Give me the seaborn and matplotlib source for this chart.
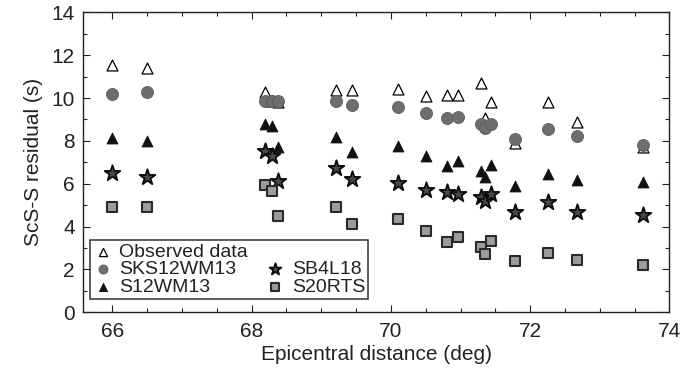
import matplotlib
matplotlib.use("Agg")
import matplotlib.pyplot as plt
import seaborn as sns
import pandas as pd
from matplotlib.lines import Line2D
from matplotlib.ticker import MultipleLocator

# ---- data ----
dist = [66.0, 66.5, 68.19, 68.3, 68.38, 69.21, 69.44, 70.1, 70.5, 70.8, 70.97,
        71.29, 71.35, 71.44, 71.78, 72.26, 72.67, 73.62]
observed = [11.52, 11.4, 10.28, 9.85, 9.8, 10.38, 10.38, 10.4, 10.08, 10.15, 10.15,
            10.7, 9.05, 9.8, 7.9, 9.8, 8.87, 7.72]
sks12wm13 = [10.2, 10.27, 9.88, 9.88, 9.85, 9.85, 9.68, 9.57, 9.28, 9.05, 9.1,
             8.8, 8.58, 8.8, 8.1, 8.55, 8.25, 7.82]
s12wm13 = [8.12, 8.0, 8.8, 8.7, 7.7, 8.2, 7.5, 7.75, 7.28, 6.83, 7.08,
           6.6, 6.3, 6.88, 5.9, 6.46, 6.18, 6.07]
sb4l18 = [6.5, 6.3, 7.55, 7.3, 6.12, 6.73, 6.22, 6.04, 5.7, 5.6, 5.52,
          5.37, 5.2, 5.52, 4.67, 5.13, 4.67, 4.56]
s20rts = [4.9, 4.9, 5.92, 5.68, 4.5, 4.93, 4.13, 4.36, 3.8, 3.3, 3.53,
          3.03, 2.73, 3.34, 2.4, 2.75, 2.44, 2.22]

x_ticks = [66, 68, 70, 72, 74]
y_ticks = [0, 2, 4, 6, 8, 10, 12, 14]

sns.set_style("white")
plt.rcParams['font.family'] = ['Liberation Sans', 'DejaVu Sans']

fig = plt.figure(figsize=(6.81, 3.74), dpi=100)
ax = fig.add_axes([0.122, 0.165, 0.861, 0.802])

series = [
    ("Observed data", observed, dict(marker="^", s=62, color="white", edgecolor="black", linewidth=0.9)),
    ("SKS12WM13", sks12wm13, dict(marker="o", s=75, color="#6e6e6e", edgecolor="#5a5a5a", linewidth=0.6)),
    ("S12WM13", s12wm13, dict(marker="^", s=62, color="#111111", edgecolor="#111111", linewidth=0.6)),
    ("SB4L18", sb4l18, dict(marker="*", s=140, color="#4a4a4a", edgecolor="#0a0a0a", linewidth=1.3)),
    ("S20RTS", s20rts, dict(marker="s", s=62, color="#9c9c9c", edgecolor="#2a2a2a", linewidth=1.5)),
]

for name, vals, kw in series:
    df = pd.DataFrame({"dist": dist, "res": vals})
    sns.scatterplot(data=df, x="dist", y="res", ax=ax, label=name, zorder=3, **kw)

ax.set_xlim(65.58, 74)
ax.set_ylim(0, 14)
ax.set_xticks(x_ticks)
ax.set_yticks(y_ticks)
ax.set_xticklabels([str(t) for t in x_ticks])
ax.set_yticklabels([str(t) for t in y_ticks])
ax.xaxis.set_minor_locator(MultipleLocator(0.5))
ax.yaxis.set_minor_locator(MultipleLocator(1))
ax.tick_params(which="both", direction="in", top=True, right=True, bottom=True, left=True,
               color="#222222", width=0.8)
ax.tick_params(which="major", length=5, labelsize=15, colors="#222222")
ax.tick_params(axis="x", which="major", pad=7)
ax.tick_params(axis="y", which="major", pad=6)
ax.tick_params(which="minor", length=3)
for sp in ax.spines.values():
    sp.set_color("#222222")
    sp.set_linewidth(1.0)

ax.set_xlabel("Epicentral distance (deg)", fontsize=15, color="#222222", labelpad=3)
ax.set_ylabel("ScS-S residual (s)", fontsize=15, color="#222222", labelpad=6)

handles, labels = ax.get_legend_handles_labels()
blank = Line2D([], [], linestyle="none", marker=None)
order_h = [handles[0], handles[1], handles[2], blank, handles[3], handles[4]]
order_l = [labels[0], labels[1], labels[2], "", labels[3], labels[4]]
leg = ax.legend(order_h, order_l, ncol=2, loc="lower left", bbox_to_anchor=(0.012, 0.045),
                fontsize=14, frameon=True, fancybox=False, edgecolor="#111111",
                markerscale=0.75, handletextpad=0.35, columnspacing=0.9, labelspacing=0.0,
                borderpad=0.15, handlelength=1.0, borderaxespad=0)
leg.get_frame().set_linewidth(1.2)
for t in leg.get_texts():
    t.set_color("#222222")

fig.savefig("out.png", dpi=100)
